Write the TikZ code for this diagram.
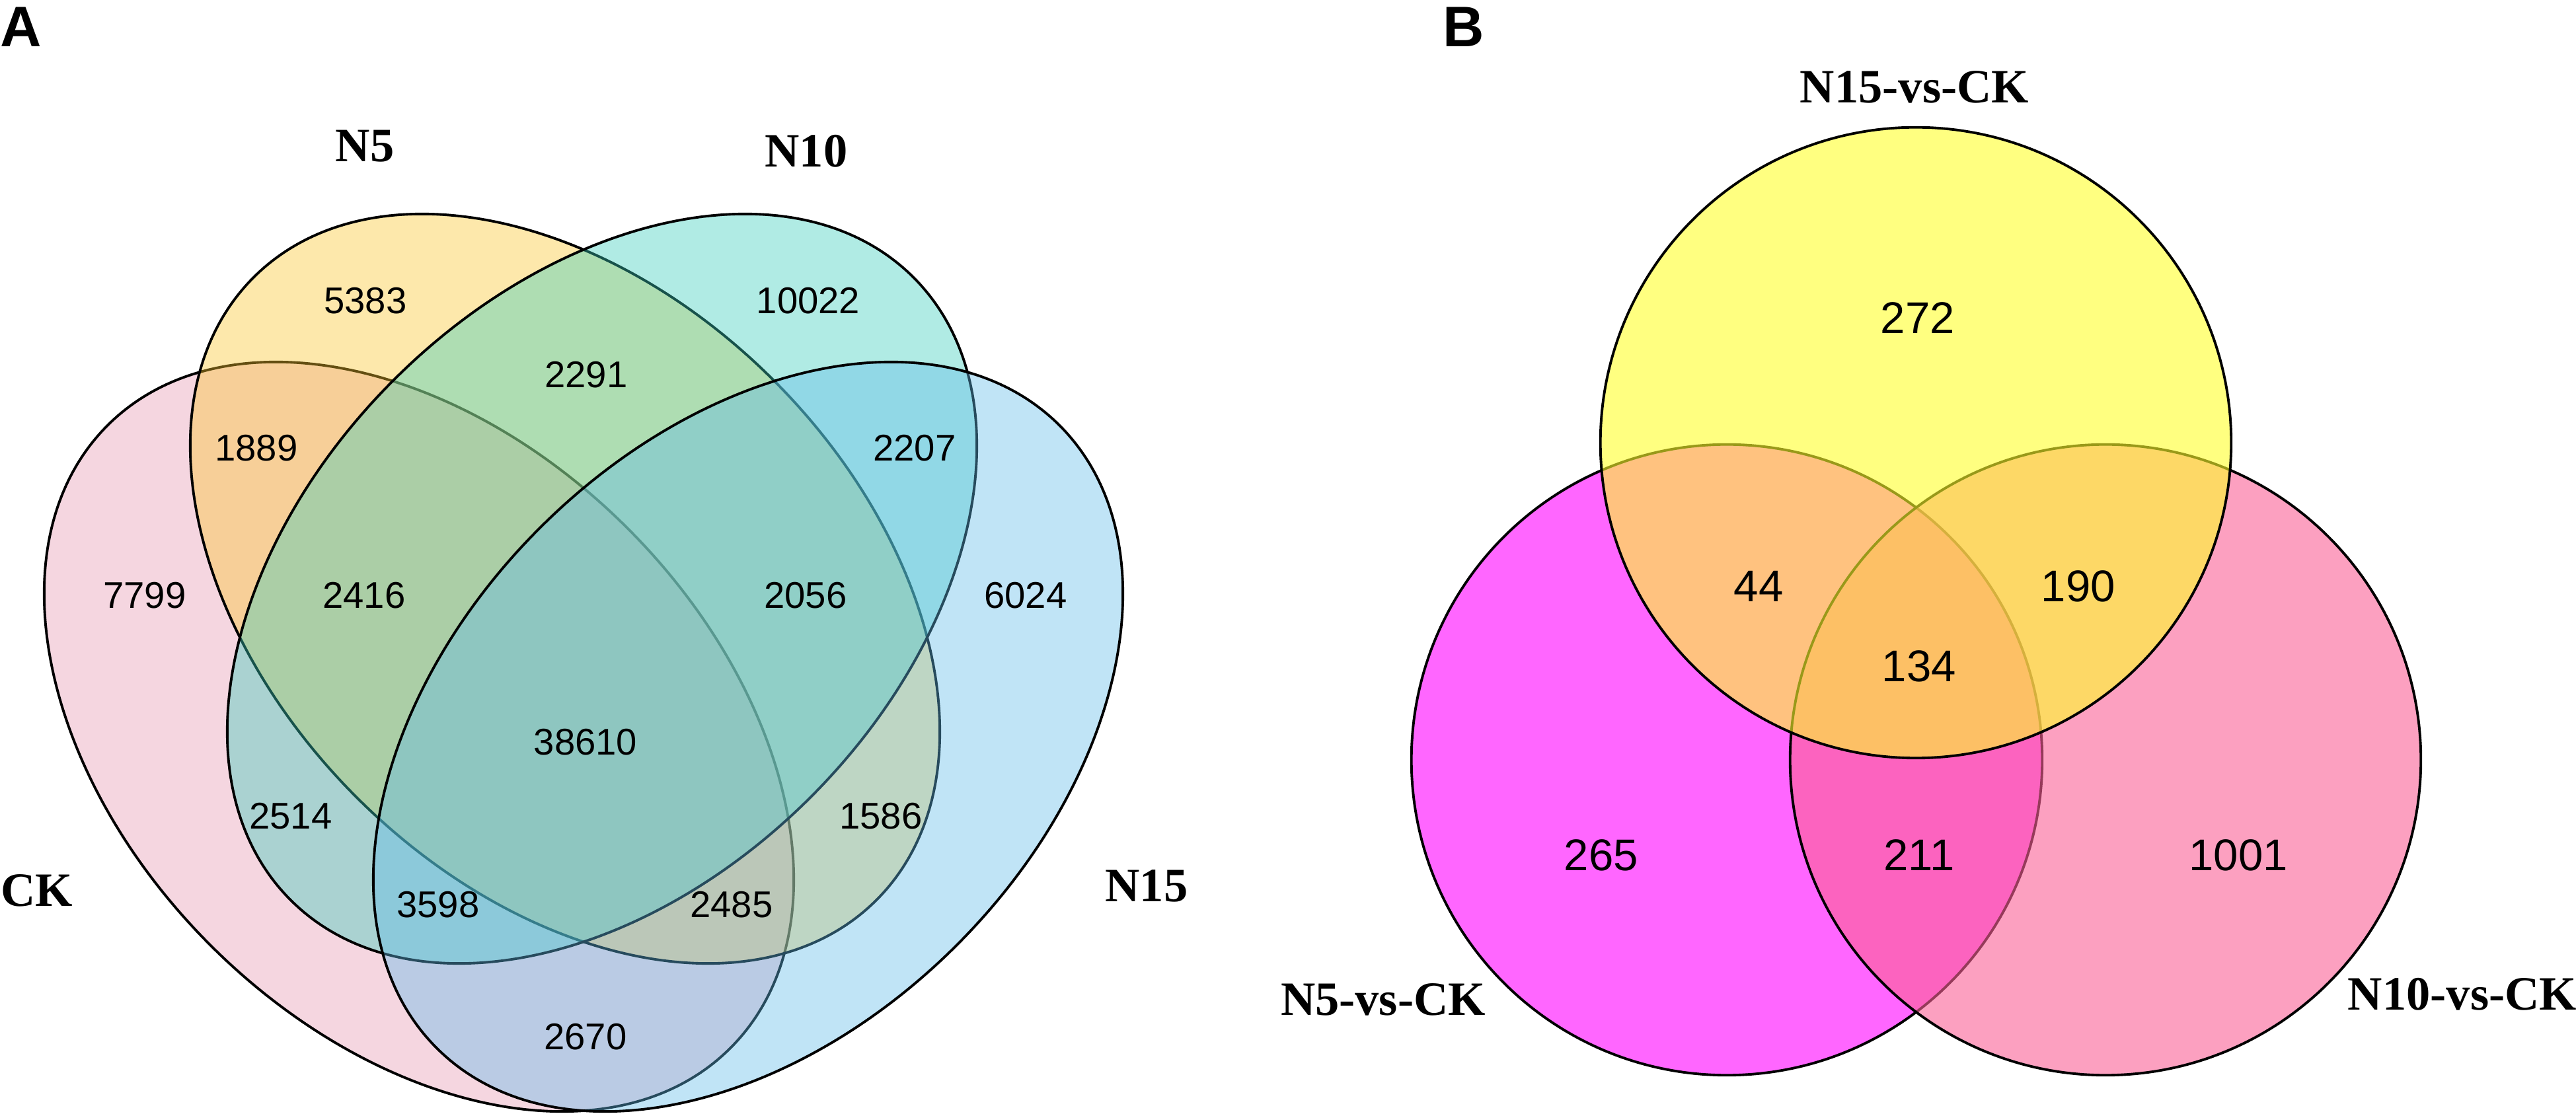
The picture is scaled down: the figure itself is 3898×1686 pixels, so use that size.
\documentclass[tikz,border=0pt]{standalone}
\usepackage{fontspec}
\setmainfont{Liberation Serif}
\setsansfont{Liberation Sans}
\usepackage{tikz}

\definecolor{ckpink}{RGB}{230,152,177}
\definecolor{nfiveorange}{RGB}{250,198,45}
\definecolor{ntenteal}{RGB}{58,205,188}
\definecolor{nfifteenblue}{RGB}{98,188,233}
\definecolor{vsfive}{RGB}{255,0,255}
\definecolor{vsten}{RGB}{250,97,150}
\definecolor{vsfifteen}{RGB}{255,255,43}

\begin{document}
\begin{tikzpicture}[x=0.01cm, y=-0.01cm]
    \tikzstyle{setA} = [draw, line width=1.1pt, fill opacity=0.4];
    \tikzstyle{setB} = [draw, line width=1.1pt, fill opacity=0.6];
    \tikzstyle{countA} = [font=\sffamily\fontsize{16}{19}\selectfont];
    \tikzstyle{countB} = [font=\sffamily\fontsize{19.1}{22}\selectfont];
    \tikzstyle{setlabel} = [font=\bfseries\fontsize{20.6}{24}\selectfont];
    \tikzstyle{panel} = [font=\sffamily\bfseries\fontsize{24.6}{28}\selectfont, inner sep=0pt, anchor=west];
    \useasboundingbox (0,0) rectangle (3898,1686);

    % A
    \coordinate (cCK) at (634,1115);
    \coordinate (cN5) at (855,891);
    \coordinate (cN10) at (911,891);
    \coordinate (cN15) at (1132,1115);
    \draw[setA, fill=ckpink, rotate around={-45:(cCK)}] (cCK) ellipse [x radius=6.66cm, y radius=4.46cm];
    \draw[setA, fill=nfiveorange, rotate around={-45:(cN5)}] (cN5) ellipse [x radius=6.66cm, y radius=4.46cm];
    \draw[setA, fill=ntenteal, rotate around={45:(cN10)}] (cN10) ellipse [x radius=6.66cm, y radius=4.46cm];
    \draw[setA, fill=nfifteenblue, rotate around={45:(cN15)}] (cN15) ellipse [x radius=6.66cm, y radius=4.46cm];

    \node[panel] (panelA) at (0,41) {A};
    \node[setlabel] (lblN5) at (552,221) {N5};
    \node[setlabel] (lblN10) at (1220,229) {N10};
    \node[setlabel] (lblCK) at (56,1348) {CK};
    \node[setlabel] (lblN15) at (1735,1341) {N15};

    \node[countA] (a5383) at (553,455) {5383};
    \node[countA] (a10022) at (1223,455) {10022};
    \node[countA] (a2291) at (887,567) {2291};
    \node[countA] (a1889) at (388,678) {1889};
    \node[countA] (a2207) at (1384,678) {2207};
    \node[countA] (a7799) at (219,901) {7799};
    \node[countA] (a2416) at (551,901) {2416};
    \node[countA] (a2056) at (1219,901) {2056};
    \node[countA] (a6024) at (1552,901) {6024};
    \node[countA] (a38610) at (886,1123) {38610};
    \node[countA] (a2514) at (440,1235) {2514};
    \node[countA] (a1586) at (1333,1235) {1586};
    \node[countA] (a3598) at (663,1369) {3598};
    \node[countA] (a2485) at (1107,1369) {2485};
    \node[countA] (a2670) at (886,1569) {2670};

    % B
    \coordinate (cVsFive) at (2613,1150);
    \coordinate (cVsTen) at (3186,1150);
    \coordinate (cVsFifteen) at (2899,670);
    \draw[setB, fill=vsfive] (cVsFive) circle [radius=4.77cm];
    \draw[setB, fill=vsten] (cVsTen) circle [radius=4.77cm];
    \draw[setB, fill=vsfifteen] (cVsFifteen) circle [radius=4.77cm];

    \node[panel] (panelB) at (2183,41) {B};
    \node[setlabel] (lblN15vs) at (2897,132) {N15-vs-CK};
    \node[setlabel] (lblN5vs) at (2093,1513) {N5-vs-CK};
    \node[setlabel] (lblN10vs) at (3726,1505) {N10-vs-CK};

    \node[countB] (b272) at (2902,481) {272};
    \node[countB] (b44) at (2661,887) {44};
    \node[countB] (b190) at (3145,887) {190};
    \node[countB] (b134) at (2904,1008) {134};
    \node[countB] (b265) at (2423,1294) {265};
    \node[countB] (b211) at (2904,1294) {211};
    \node[countB] (b1001) at (3387,1294) {1001};
\end{tikzpicture}
\end{document}
